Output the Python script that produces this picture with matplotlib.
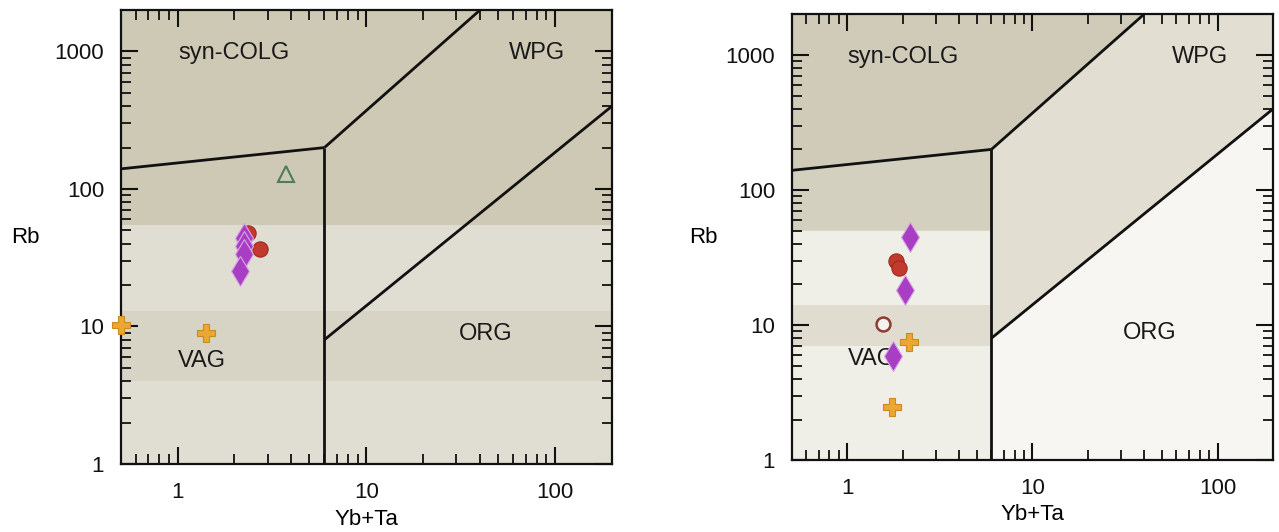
import numpy as np
import matplotlib
matplotlib.use("Agg")
import matplotlib.pyplot as plt
from matplotlib.ticker import LogLocator, NullFormatter, FixedLocator, FixedFormatter

plt.rcParams['font.family'] = ['Liberation Sans', 'DejaVu Sans']

# --- data (Yb+Ta, Rb) ---
# left panel
left_cross_x = [0.5, 1.41]
left_cross_y = [10.3, 9.0]
left_diamond_x = [2.26, 2.26, 2.24, 2.15]
left_diamond_y = [44.0, 38.5, 33.4, 25.2]
left_circle_x = [2.36, 2.72]
left_circle_y = [48.0, 36.7]
left_triangle_x = [3.74]
left_triangle_y = [129.0]

# right panel
right_cross_x = [2.15, 1.74]
right_cross_y = [7.5, 2.48]
right_diamond_x = [2.17, 2.06, 1.77]
right_diamond_y = [44.7, 18.1, 5.9]
right_circle_x = [1.82, 1.90]
right_circle_y = [29.8, 26.3]
right_open_x = [1.55]
right_open_y = [10.2]

# Pearce et al. (1984) boundaries
bound_low_x = [0.5, 6]
bound_low_y = [140, 200]
bound_vert_x = [6, 6]
bound_vert_y = [1, 200]
bound_up_x = [6, 40]
bound_up_y = [200, 2000]
bound_org_x = [6, 200]
bound_org_y = [8, 400]

fields = ["syn-COLG", "WPG", "ORG", "VAG"]
field_x = [2.0, 80, 43, 1.35]
field_y = [970, 970, 8.8, 5.6]

XLIM = (0.5, 200)
YLIM = (1, 2000)


def background(ax, right=False):
    if not right:
        ax.set_facecolor('#e0ded2')
        ax.axhspan(55, 2000, color='#cdc9b5', zorder=0, lw=0)
        ax.axhspan(4, 13, color='#d7d4c5', zorder=0, lw=0)
    else:
        ax.set_facecolor('#efeee7')
        # syn-COLG and upper VAG
        ax.fill([0.5, 6, 40, 0.5], [140, 200, 2000, 2000], color='#cfcbb8', zorder=0, lw=0)
        ax.fill([0.5, 6, 6, 0.5], [50, 50, 200, 140], color='#d4d0bf', zorder=0, lw=0)
        ax.fill([0.5, 6, 6, 0.5], [7, 7, 14, 14], color='#e0ddd0', zorder=0, lw=0)
        # WPG
        ax.fill([6, 40, 200, 200, 6], [200, 2000, 2000, 400, 8], color='#e2dfd2', zorder=0, lw=0)
        # ORG
        ax.fill([6, 200, 200, 6], [8, 400, 1, 1], color='#f7f6f2', zorder=0, lw=0)


def setup(ax, rb_x):
    ax.set_xscale('log')
    ax.set_yscale('log')
    ax.set_xlim(*XLIM)
    ax.set_ylim(*YLIM)
    ax.xaxis.set_major_locator(FixedLocator([1, 10, 100]))
    ax.xaxis.set_major_formatter(FixedFormatter(['1', '10', '100']))
    ax.yaxis.set_major_locator(FixedLocator([1, 10, 100, 1000]))
    ax.yaxis.set_major_formatter(FixedFormatter(['1', '10', '100', '1000']))
    ax.xaxis.set_minor_locator(LogLocator(base=10, subs=np.arange(2, 10), numticks=20))
    ax.yaxis.set_minor_locator(LogLocator(base=10, subs=np.arange(2, 10), numticks=20))
    ax.xaxis.set_minor_formatter(NullFormatter())
    ax.yaxis.set_minor_formatter(NullFormatter())
    ax.tick_params(which='both', direction='in', top=True, right=True, colors='#111111')
    ax.tick_params(which='major', length=12, width=1.5, labelsize=16)
    ax.tick_params(axis='x', which='major', pad=13)
    ax.tick_params(axis='y', which='major', pad=12)
    ax.tick_params(which='minor', length=7, width=1.3)
    for s in ax.spines.values():
        s.set_linewidth(1.6)
        s.set_color('#111111')

    for bx, by in [(bound_low_x, bound_low_y), (bound_vert_x, bound_vert_y),
                   (bound_up_x, bound_up_y), (bound_org_x, bound_org_y)]:
        ax.plot(bx, by, color='#111111', lw=2.0, zorder=2, solid_capstyle='butt')

    for name, fx, fy in zip(fields, field_x, field_y):
        ax.text(fx, fy, name, fontsize=17, ha='center', va='center', color='#1a1a1a', zorder=3)

    ax.set_xlabel('Yb+Ta', fontsize=16, va='center')
    ax.xaxis.set_label_coords(0.5, -0.122)
    ax.set_ylabel('Rb', fontsize=16, rotation=0, va='center', ha='center')
    ax.yaxis.set_label_coords(rb_x, 0.5)


fig = plt.figure(figsize=(12.79, 5.32), dpi=100)
fig.patch.set_facecolor('white')

ax1 = fig.add_axes([0.0944, 0.128, 0.384, 0.853])
ax2 = fig.add_axes([0.619, 0.135, 0.3765, 0.838])

background(ax1)
background(ax2, right=True)
setup(ax1, -0.195)
setup(ax2, -0.183)

cross_kw = dict(marker='P', ms=13, color='#eca733', mec='#c98a20', mew=0.8, ls='none', zorder=4, clip_on=False)
diam_kw = dict(marker='d', ms=15, color='#a83ec4', mec='#d8a6e3', mew=0.8, ls='none', zorder=4)
circ_kw = dict(marker='o', ms=11, color='#c23a2e', mec='#a02a20', mew=0.8, ls='none', zorder=4)

ax1.plot(left_cross_x, left_cross_y, **cross_kw)
ax1.plot(left_circle_x, left_circle_y, **circ_kw)
ax1.plot(left_diamond_x, left_diamond_y, **diam_kw)
ax1.plot(left_triangle_x, left_triangle_y, marker='^', ms=11, mfc='none', mec='#4f7a5c',
         mew=1.5, ls='none', zorder=4)

ax2.plot(right_cross_x, right_cross_y, **cross_kw)
ax2.plot(right_circle_x, right_circle_y, **circ_kw)
ax2.plot(right_diamond_x, right_diamond_y, **diam_kw)
ax2.plot(right_open_x, right_open_y, marker='o', ms=10, mfc='#f5f2ec', mec='#8d3b33',
         mew=1.8, ls='none', zorder=4)

fig.savefig('out.png', dpi=100)
